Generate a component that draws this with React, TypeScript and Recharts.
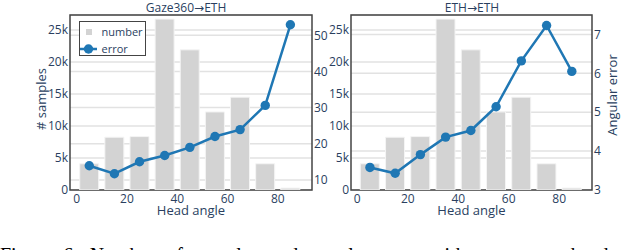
import React from 'react';
import {
  ComposedChart,
  Bar,
  Line,
  XAxis,
  YAxis,
  CartesianGrid,
  ReferenceArea,
  Legend,
} from 'recharts';

const angles = [5, 15, 25, 35, 45, 55, 65, 75, 85];
const sampleCounts = [4100, 8250, 8350, 26700, 21900, 12200, 14500, 4100, 300];
const errorGaze360 = [13.9, 11.7, 15.0, 16.75, 19.0, 22.0, 23.9, 30.6, 52.9];
const errorEth = [3.58, 3.43, 3.91, 4.36, 4.53, 5.14, 6.32, 7.23, 6.05];

const xTicks = [0, 20, 40, 60, 80];
const countTicks = [0, 5000, 10000, 15000, 20000, 25000];
const gazeErrTicks = [10, 20, 30, 40, 50];
const ethErrTicks = [3, 4, 5, 6, 7];

const titleParts: [string, string][] = [
  ['Gaze360', 'ETH'],
  ['ETH', 'ETH'],
];

const dataGaze = angles.map((a, i) => ({ angle: a, count: sampleCounts[i], err: errorGaze360[i] }));
const dataEth = angles.map((a, i) => ({ angle: a, count: sampleCounts[i], err: errorEth[i] }));

const FONT = '"Open Sans", sans-serif';
const TXT = '#2a3f5f';
const GRID = '#e2e2e2';
const FRAME = '#444';
const BAR = '#d3d3d3';
const LINE = '#1f77b4';

const tickStyle = { fontFamily: FONT, fontSize: 12, fill: TXT };
const kFmt = (v: number) => (v === 0 ? '0' : `${v / 1000}k`);

const LegendBox = () => (
  <svg width={67} height={35} style={{ display: 'block' }}>
    <rect x={0.5} y={0.5} width={66} height={34} fill="#fff" stroke={FRAME} strokeWidth={1} />
    <rect x={7} y={8} width={6} height={6} fill={BAR} />
    <text x={22.5} y={15} fontFamily={FONT} fontSize={11} fill={TXT}>number</text>
    <line x1={1} y1={28} x2={18} y2={28} stroke={LINE} strokeWidth={2.5} />
    <circle cx={9.5} cy={28} r={4.7} fill={LINE} />
    <text x={22.5} y={31.5} fontFamily={FONT} fontSize={11} fill={TXT}>error</text>
  </svg>
);

const RotLabel = ({ cx, cy, text }: { cx: number; cy: number; text: string }) => (
  <text
    x={cx}
    y={cy}
    transform={`rotate(-90 ${cx} ${cy})`}
    textAnchor="middle"
    dominantBaseline="central"
    fontFamily={FONT}
    fontSize={13}
    fill={TXT}
  >
    {text}
  </text>
);

type PanelProps = {
  data: { angle: number; count: number; err: number }[];
  width: number;
  leftW: number;
  rightW: number;
  xDomain: [number, number];
  errDomain: [number, number];
  errTicks: number[];
  title: [string, string];
  titleX: number;
  showLegend: boolean;
  leftLabel?: { x: number; y: number; text: string };
  rightLabel?: { x: number; y: number; text: string };
};

const Panel = (p: PanelProps) => (
  <ComposedChart
    width={p.width}
    height={250}
    data={p.data}
    margin={{ top: 15, right: 0, bottom: 0, left: 0 }}
  >
    <CartesianGrid xAxisId="x" yAxisId="left" vertical={false} stroke={GRID} strokeWidth={1.5} />
    <CartesianGrid xAxisId="x" yAxisId="right" vertical={false} stroke={GRID} strokeWidth={1.5} />
    <XAxis
      xAxisId="x"
      dataKey="angle"
      type="number"
      domain={p.xDomain}
      allowDataOverflow
      ticks={xTicks}
      interval={0}
      height={60}
      tickLine={false}
      axisLine={false}
      tickSize={0}
      tickMargin={4}
      tick={tickStyle}
      label={{
        value: 'Head angle',
        position: 'insideTop',
        offset: 16,
        style: { fontFamily: FONT, fontSize: 13, fill: TXT },
      }}
    />
    <YAxis
      yAxisId="left"
      type="number"
      domain={[0, 27340]}
      allowDataOverflow
      ticks={countTicks}
      interval={0}
      width={p.leftW}
      tickLine={false}
      axisLine={false}
      tickSize={0}
      tickMargin={2}
      tick={tickStyle}
      tickFormatter={kFmt}
    />
    <YAxis
      yAxisId="right"
      orientation="right"
      type="number"
      domain={p.errDomain}
      allowDataOverflow
      ticks={p.errTicks}
      interval={0}
      width={p.rightW}
      tickLine={false}
      axisLine={false}
      tickSize={0}
      tickMargin={2}
      tick={{ ...tickStyle, textAnchor: 'start' }}
    />
    <Bar
      xAxisId="x"
      yAxisId="left"
      dataKey="count"
      name="number"
      barSize={19}
      fill={BAR}
      stroke="#f4f4f4"
      strokeWidth={1}
      isAnimationActive={false}
    />
    <Line
      xAxisId="x"
      yAxisId="right"
      dataKey="err"
      name="error"
      type="linear"
      stroke={LINE}
      strokeWidth={2.5}
      dot={{ r: 4.7, fill: LINE, stroke: LINE, strokeWidth: 0 }}
      activeDot={false}
      isAnimationActive={false}
    />
    <ReferenceArea
      xAxisId="x"
      yAxisId="left"
      x1={p.xDomain[0]}
      x2={p.xDomain[1]}
      y1={0}
      y2={27340}
      fill="none"
      stroke={FRAME}
      strokeWidth={1.5}
      ifOverflow="visible"
    />
    {p.showLegend && (
      <Legend
        layout="vertical"
        align="center"
        verticalAlign="middle"
        content={() => <LegendBox />}
        wrapperStyle={{ left: 79, top: 21, width: 'auto', height: 'auto' }}
      />
    )}
    <text x={p.titleX} y={12} textAnchor="middle" fontFamily={FONT} fontSize={12} fill={TXT}>
      {p.title[0]}
      <tspan fontFamily='"DejaVu Sans", sans-serif'>{'\u2192'}</tspan>
      {p.title[1]}
    </text>
    {p.leftLabel && <RotLabel cx={p.leftLabel.x} cy={p.leftLabel.y} text={p.leftLabel.text} />}
    {p.rightLabel && <RotLabel cx={p.rightLabel.x} cy={p.rightLabel.y} text={p.rightLabel.text} />}
  </ComposedChart>
);

export default function App() {
  return (
    <div
      style={{
        position: 'absolute',
        left: 0,
        top: 0,
        width: 622,
        height: 250,
        overflow: 'hidden',
        background: '#fff',
      }}
    >
      <div style={{ position: 'absolute', left: 0, top: 0 }}>
        <Panel
          data={dataGaze}
          width={345}
          leftW={70}
          rightW={33}
          xDomain={[-2.67, 93.6]}
          errDomain={[7.2, 55.6]}
          errTicks={gazeErrTicks}
          title={titleParts[0]}
          titleX={186}
          showLegend
          leftLabel={{ x: 41, y: 99, text: '# samples' }}
        />
      </div>
      <div style={{ position: 'absolute', left: 306, top: 0 }}>
        <Panel
          data={dataEth}
          width={316}
          leftW={45}
          rightW={30}
          xDomain={[-2.5, 93]}
          errDomain={[3, 7.5]}
          errTicks={ethErrTicks}
          title={titleParts[1]}
          titleX={166}
          showLegend={false}
          rightLabel={{ x: 306, y: 95, text: 'Angular error' }}
        />
      </div>
      <div
        style={{
          position: 'absolute',
          left: 0,
          top: 244,
          width: 640,
          whiteSpace: 'nowrap',
          fontFamily: '"Liberation Serif", serif',
          fontSize: 20,
          color: '#000',
          wordSpacing: 6,
        }}
      >
        Figure 6: Number of samples and angular error with respect to head angle
      </div>
    </div>
  );
}
